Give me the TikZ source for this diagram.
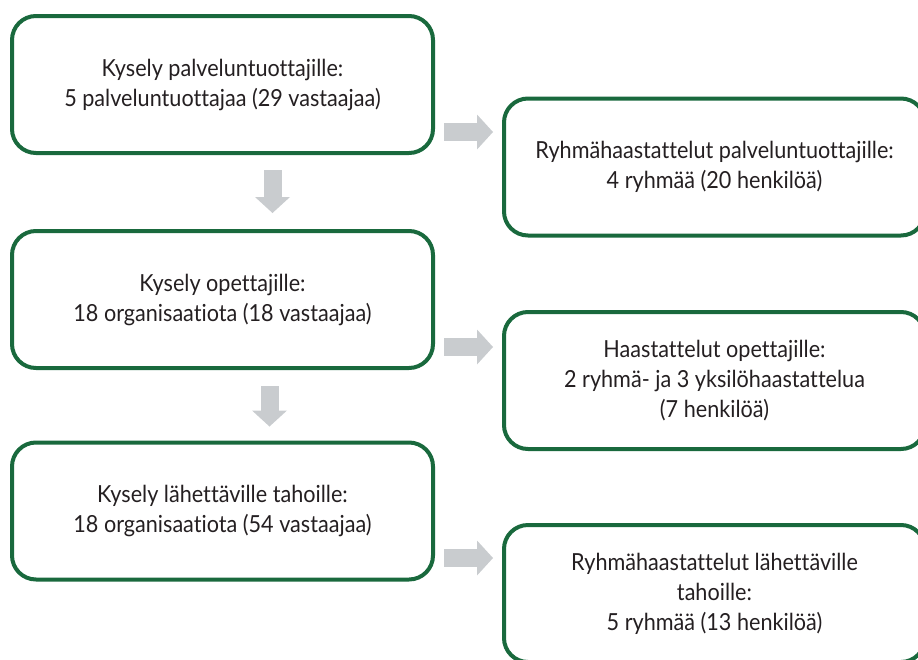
\documentclass[tikz,border=0pt]{standalone}
\usepackage{fontspec}
\setmainfont{Lato}[FakeStretch=0.92,Ligatures=NoCommon]
\usetikzlibrary{arrows.meta}
\definecolor{frame}{rgb}{0.10, 0.41, 0.24}
\definecolor{pointer}{rgb}{0.79, 0.80, 0.81}
\definecolor{ink}{rgb}{0.14, 0.12, 0.13}
\tikzset{
	box/.style={draw=frame, line width=4pt, rounded corners=24pt, minimum width=421pt, minimum height=137pt, inner sep=0pt, align=center, text=ink, font=\fontsize{23.5}{30}\selectfont},
	blockarrow/.style={draw=pointer, line width=18pt, -{Triangle[width=35pt,length=16pt,line width=0pt]}}
}
\begin{document}
\begin{tikzpicture}[x=1pt,y=-1pt]
	\useasboundingbox (0,0) rectangle (918,659);
	\clip (0,0) rectangle (918,659);
	\node[box] (k1) at (222.5,84.5) {Kysely palveluntuottajille:\\5 palveluntuottajaa (29 vastaajaa)};
	\node[box] (k2) at (222.5,299.5) {Kysely opettajille:\\18 organisaatiota (18 vastaajaa)};
	\node[box] (k3) at (222.5,511) {Kysely lähettäville tahoille:\\18 organisaatiota (54 vastaajaa)};
	\node[box] (h1) at (714.5,167) {Ryhmähaastattelut palveluntuottajille:\\4 ryhmää (20 henkilöä)};
	\node[box] (h2) at (714.5,380.5) {Haastattelut opettajille:\\2 ryhmä- ja 3 yksilöhaastattelua\\(7 henkilöä)};
	\node[box] (h3) at (714.5,593.5) {Ryhmähaastattelut lähettäville\\tahoille:\\5 ryhmää (13 henkilöä)};
	\draw[blockarrow, shorten <=15pt, shorten >=16pt] ([xshift=50pt]k1.south) -- ([xshift=50pt]k2.north);
	\draw[blockarrow, shorten <=16pt, shorten >=14pt] ([xshift=47pt]k2.south) -- ([xshift=47pt]k3.north);
	\draw[blockarrow, shorten <=9pt, shorten >=9pt] ([yshift=-47.5pt]k1.east) -- ([yshift=-47.5pt]k1.east -| h1.west);
	\draw[blockarrow, shorten <=9pt, shorten >=9pt] ([yshift=-47.5pt]k2.east) -- ([yshift=-47.5pt]k2.east -| h2.west);
	\draw[blockarrow, shorten <=9pt, shorten >=9pt] ([yshift=-47pt]k3.east) -- ([yshift=-47pt]k3.east -| h3.west);
\end{tikzpicture}
\end{document}
